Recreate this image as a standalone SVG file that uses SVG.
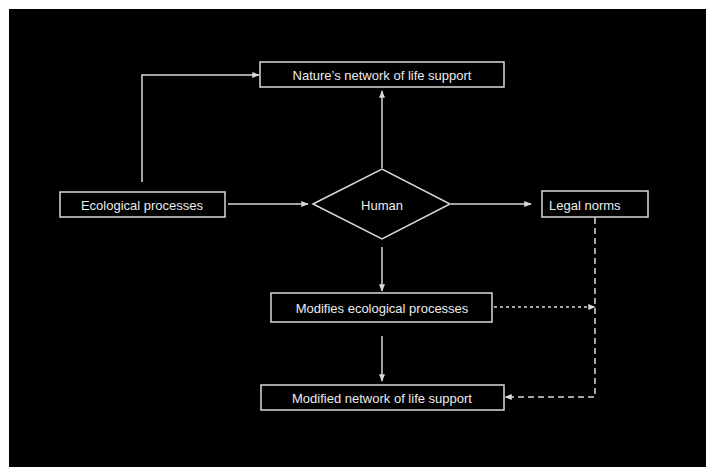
<svg xmlns="http://www.w3.org/2000/svg" width="706" height="467" viewBox="0 0 706 467">
<style>
.box{fill:#000;stroke:#d9d9d9;stroke-width:1.5}
.t{font-family:"Liberation Sans",Arial,sans-serif;font-size:13px;fill:#ececec;dominant-baseline:central}
.c{text-anchor:middle}
.ln{fill:none;stroke:#d9d9d9;stroke-width:1.5}
.dash{stroke-dasharray:6,4}
.dot{stroke-dasharray:3,3}
</style>
<defs>
<marker id="ah" viewBox="0 0 10 10" refX="9" refY="5" markerWidth="5" markerHeight="5" orient="auto">
<path d="M0,1 L10,5 L0,9 Z" fill="#d9d9d9"/>
</marker>
</defs>
<rect x="0" y="0" width="706" height="467" fill="#fff"/>
<rect x="9" y="9" width="697" height="458" fill="#000"/>
<g id="connectors">
<path class="ln" d="M142,182 V75 H259" marker-end="url(#ah)"/>
<path class="ln" d="M382,168 V91" marker-end="url(#ah)"/>
<path class="ln" d="M228,204 H308" marker-end="url(#ah)"/>
<path class="ln" d="M451,204 H531" marker-end="url(#ah)"/>
<path class="ln" d="M382,247 V291" marker-end="url(#ah)"/>
<path class="ln" d="M382,336 V381" marker-end="url(#ah)"/>
<path class="ln dot" d="M494,307 H595" marker-end="url(#ah)"/>
<path class="ln dash" d="M595,218 V397 H505" marker-end="url(#ah)"/>
</g>
<g id="nature">
<rect class="box" x="260" y="62" width="244" height="25"/>
<text class="t c" x="382" y="75">Nature’s network of life support</text>
</g>
<g id="ecological">
<rect class="box" x="60" y="192" width="165" height="25"/>
<text class="t c" x="142" y="205">Ecological processes</text>
</g>
<g id="human">
<polygon class="box" points="313,204 382,169 450,204 382,239"/>
<text class="t c" x="382" y="205">Human</text>
</g>
<g id="legal">
<rect class="box" x="542" y="191" width="106" height="26"/>
<text class="t" x="549" y="205">Legal norms</text>
</g>
<g id="modifies">
<rect class="box" x="271" y="293" width="221" height="29"/>
<text class="t c" x="382" y="308">Modifies ecological processes</text>
</g>
<g id="modified">
<rect class="box" x="261" y="385" width="243" height="25"/>
<text class="t c" x="382" y="398">Modified network of life support</text>
</g>
</svg>
